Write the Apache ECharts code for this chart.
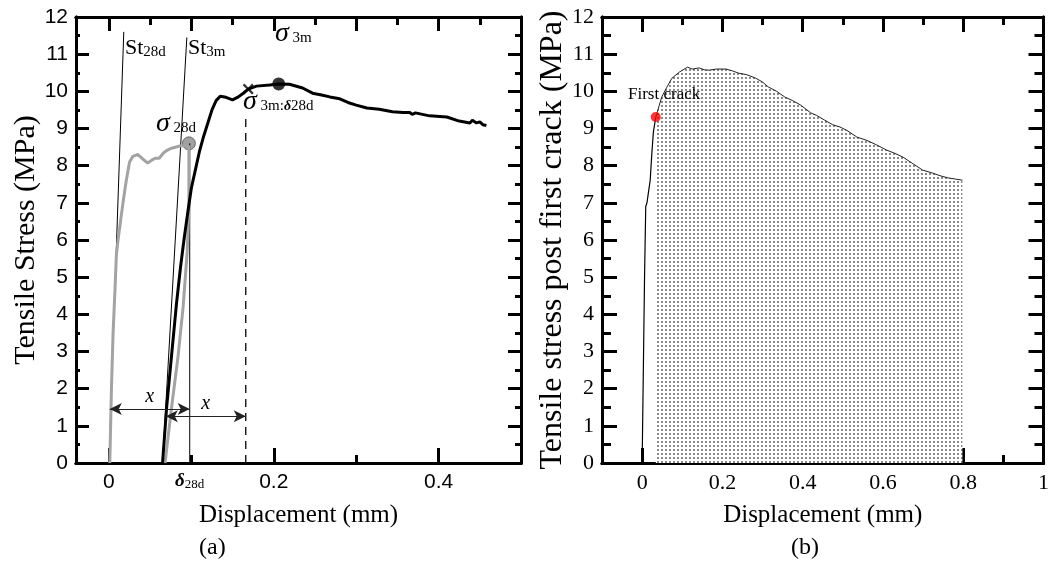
<!DOCTYPE html>
<html>
<head>
<meta charset="utf-8">
<script src="https://cdn.jsdelivr.net/npm/echarts@6/dist/echarts.min.js"></script>
<style>
  html, body { margin: 0; padding: 0; background: #fff; }
  #main { width: 1052px; height: 572px; }
</style>
</head>
<body>
<div id="main"></div>
<script>
// ---- data (a): 3 month curve, 28 day curve
var curve3mX = [0.065, 0.070, 0.076, 0.082, 0.087, 0.091, 0.096, 0.100, 0.105, 0.110, 0.115, 0.120, 0.125, 0.130, 0.135, 0.142, 0.150, 0.157, 0.163, 0.169, 0.179, 0.195, 0.206, 0.219, 0.235, 0.247, 0.258, 0.268, 0.280, 0.290, 0.300, 0.313, 0.328, 0.344, 0.357, 0.365, 0.368, 0.372, 0.389, 0.410, 0.425, 0.438, 0.441, 0.446, 0.450, 0.454, 0.458];
var curve3mY = [0, 1.5, 2.9, 4.3, 5.3, 6.0, 6.8, 7.4, 7.9, 8.4, 8.8, 9.15, 9.5, 9.75, 9.87, 9.84, 9.77, 9.85, 9.95, 10.06, 10.14, 10.17, 10.2, 10.19, 10.09, 9.95, 9.9, 9.85, 9.8, 9.7, 9.63, 9.55, 9.52, 9.45, 9.43, 9.43, 9.38, 9.42, 9.34, 9.31, 9.2, 9.15, 9.22, 9.15, 9.18, 9.1, 9.08];
var curve28dX = [0.001, 0.003, 0.005, 0.007, 0.009, 0.011, 0.014, 0.017, 0.021, 0.025, 0.029, 0.035, 0.040, 0.047, 0.052, 0.056, 0.061, 0.066, 0.071, 0.076, 0.086, 0.097];
var curve28dY = [0, 2.0, 3.5, 4.5, 5.6, 6.0, 6.5, 7.0, 7.6, 8.1, 8.25, 8.3, 8.2, 8.07, 8.15, 8.2, 8.2, 8.34, 8.42, 8.47, 8.53, 8.55];
var shifted28dX = [0.068, 0.076, 0.084, 0.090, 0.095, 0.097, 0.097];
var shifted28dY = [0, 1.5, 2.9, 4.2, 5.7, 6.9, 8.55];
var st28dX = [0, 0.018];
var st28dY = [0, 11.6];
var st3mX = [0.065, 0.0945];
var st3mY = [0, 11.45];
var sigma28d = [0.097, 8.6];
var sigma3m = [0.206, 10.2];
var sigma3mAt28d = [0.169, 10.06];
var delta28d = 0.098;
var dashX = 0.166;
var dashTop = 9.3;
var arrow1 = [0.001, 0.098, 1.45];
var arrow2 = [0.069, 0.166, 1.26];

// ---- data (b): post first crack
var preCrackX = [0, 0.003, 0.006, 0.009, 0.012, 0.016, 0.020, 0.024, 0.028, 0.034];
var preCrackY = [0, 2.5, 5.0, 6.9, 7.0, 7.3, 7.6, 8.3, 8.9, 9.31];
var postCrackX = [0.034, 0.042, 0.049, 0.061, 0.074, 0.093, 0.113, 0.125, 0.142, 0.155, 0.167, 0.185, 0.209, 0.225, 0.240, 0.260, 0.282, 0.300, 0.314, 0.335, 0.355, 0.375, 0.395, 0.420, 0.435, 0.454, 0.475, 0.493, 0.510, 0.535, 0.560, 0.584, 0.609, 0.630, 0.650, 0.675, 0.699, 0.724, 0.745, 0.763, 0.780, 0.798];
var postCrackY = [9.31, 9.6, 9.85, 10.1, 10.35, 10.52, 10.65, 10.6, 10.63, 10.58, 10.57, 10.6, 10.6, 10.55, 10.49, 10.45, 10.36, 10.25, 10.12, 10.0, 9.85, 9.75, 9.63, 9.42, 9.35, 9.23, 9.1, 9.04, 8.95, 8.77, 8.68, 8.56, 8.42, 8.33, 8.23, 8.05, 7.88, 7.8, 7.72, 7.67, 7.64, 7.61];
var firstCrack = [0.034, 9.31];

// ---- ticks
var yMajor = [0, 1, 2, 3, 4, 5, 6, 7, 8, 9, 10, 11, 12];
var yMinor = [0.5, 1.5, 2.5, 3.5, 4.5, 5.5, 6.5, 7.5, 8.5, 9.5, 10.5, 11.5];
var aXMajor = [0, 0.2, 0.4];
var aXMinor = [0.1, 0.3];
var aXTopMajor = [0, 0.1, 0.2, 0.3, 0.4];
var aXTopMinor = [0.05, 0.15, 0.25, 0.35, 0.45];
var aXLabels = [0, 0.098, 0.2, 0.4];
var bXMajor = [0, 0.2, 0.4, 0.6, 0.8, 1];
var bXMinor = [0.1, 0.3, 0.5, 0.7, 0.9];

var SANS = 'Liberation Sans, Arial, sans-serif';
var SERIF = 'Liberation Serif, Times New Roman, serif';

function zip(xs, ys) {
    return xs.map(function (x, i) { return [x, ys[i]]; });
}

function axis(grid, pos, min, max, ticks, len, extra) {
    var a = {
        type: 'value', gridIndex: grid, position: pos, min: min, max: max,
        axisLine: { show: true, onZero: false, lineStyle: { color: '#000', width: 3 } },
        axisTick: { show: true, inside: true, length: len, customValues: ticks, lineStyle: { color: '#000', width: 3 } },
        axisLabel: { show: false },
        splitLine: { show: false }
    };
    for (var k in extra) a[k] = extra[k];
    return a;
}

// dotted fill like the original stipple
var pat = document.createElement('canvas');
pat.width = 4; pat.height = 4;
var pctx = pat.getContext('2d');
pctx.fillStyle = '#fff';
pctx.fillRect(0, 0, 4, 4);
pctx.fillStyle = '#8a8a8a';
pctx.fillRect(1, 1, 2, 2);

var xAxes = [
    axis(0, 'bottom', -0.04, 0.5, aXMajor, 15, {
        name: 'Displacement (mm)', nameLocation: 'middle', nameGap: 40,
        nameTextStyle: { fontFamily: SERIF, fontSize: 25, color: '#000' },
        axisLabel: {
            show: true, customValues: aXLabels, margin: 9, fontFamily: SANS, fontSize: 21, color: '#000',
            formatter: function (v) {
                return Math.abs(v - delta28d) < 1e-6 ? '{d|δ}{s|28d}' : String(v);
            },
            rich: {
                d: { fontFamily: SERIF, fontStyle: 'italic', fontWeight: 'bold', fontSize: 19, color: '#000' },
                s: { fontFamily: SERIF, fontSize: 13, color: '#000', padding: [6, 0, 0, 0] }
            }
        }
    }),
    axis(0, 'bottom', -0.04, 0.5, aXMinor, 8),
    axis(0, 'top', -0.04, 0.5, aXTopMajor, 14),
    axis(0, 'top', -0.04, 0.5, aXTopMinor, 8),
    axis(1, 'bottom', -0.1, 1, bXMajor, 15, {
        name: 'Displacement (mm)', nameLocation: 'middle', nameGap: 40,
        nameTextStyle: { fontFamily: SERIF, fontSize: 25, color: '#000' },
        axisLabel: { show: true, customValues: bXMajor, margin: 9, fontFamily: SERIF, fontSize: 22, color: '#000' }
    }),
    axis(1, 'bottom', -0.1, 1, bXMinor, 8),
    axis(1, 'top', -0.1, 1, bXMajor, 15),
    axis(1, 'top', -0.1, 1, bXMinor, 8)
];

var yAxes = [
    axis(0, 'left', 0, 12, yMajor, 13, {
        name: 'Tensile Stress (MPa)', nameLocation: 'middle', nameGap: 31,
        nameTextStyle: { fontFamily: SERIF, fontSize: 30, color: '#000' },
        axisLabel: { show: true, customValues: yMajor, margin: 8, fontFamily: SANS, fontSize: 21, color: '#000' }
    }),
    axis(0, 'left', 0, 12, yMinor, 4),
    axis(0, 'right', 0, 12, yMajor, 13),
    axis(0, 'right', 0, 12, yMinor, 6),
    axis(1, 'left', 0, 12, yMajor, 15, {
        name: 'Tensile stress post first crack (MPa)', nameLocation: 'middle', nameGap: 29,
        nameTextStyle: { fontFamily: SERIF, fontSize: 32, color: '#000' },
        axisLabel: { show: true, customValues: yMajor, margin: 8, fontFamily: SERIF, fontSize: 22, color: '#000' }
    }),
    axis(1, 'left', 0, 12, yMinor, 9),
    axis(1, 'right', 0, 12, yMajor, 15),
    axis(1, 'right', 0, 12, yMinor, 9)
];

function line(name, data, xi, color, width, extra) {
    var s = {
        name: name, type: 'line', xAxisIndex: xi, yAxisIndex: xi, data: data,
        showSymbol: false, symbol: 'none', silent: true, animation: false,
        lineStyle: { color: color, width: width }
    };
    for (var k in extra) s[k] = extra[k];
    return s;
}

var crossPath = 'path://M0,1.5L1.5,0L5,3.5L8.5,0L10,1.5L6.5,5L10,8.5L8.5,10L5,6.5L1.5,10L0,8.5L3.5,5Z';

var myChart = echarts.init(document.getElementById('main'));
myChart.setOption({
    animation: false,
    grid: [
        { left: 76, top: 17, width: 445, height: 446 },
        { left: 602, top: 17, width: 446, height: 446 }
    ],
    xAxis: xAxes,
    yAxis: yAxes,
    series: [
        line('St28d', zip(st28dX, st28dY), 0, '#000', 1, {
            markLine: {
                silent: true, animation: false,
                symbol: ['arrow', 'arrow'], symbolSize: [9, 12],
                lineStyle: { color: '#222', width: 1.2, type: 'solid' },
                label: { show: true, position: 'middle', formatter: 'x', fontFamily: SERIF, fontStyle: 'italic', fontSize: 20, color: '#000', distance: 2 },
                data: [
                    [{ coord: [arrow1[0], arrow1[2]] }, { coord: [arrow1[1], arrow1[2]] }],
                    [{ coord: [arrow2[0], arrow2[2]] }, { coord: [arrow2[1], arrow2[2]] }]
                ]
            }
        }),
        line('St3m', zip(st3mX, st3mY), 0, '#000', 1),
        line('delta28d', [[delta28d, 0], [delta28d, sigma28d[1]]], 0, '#000', 1),
        line('dash', [[dashX, 0], [dashX, dashTop]], 0, '#000', 1.3, {
            lineStyle: { color: '#000', width: 1.3, type: [8, 6] }
        }),
        line('28d', zip(curve28dX, curve28dY), 0, '#a3a3a3', 3),
        line('28d shifted', zip(shifted28dX, shifted28dY), 0, '#a3a3a3', 3),
        line('3m', zip(curve3mX, curve3mY), 0, '#000', 3),
        {
            type: 'scatter', xAxisIndex: 0, yAxisIndex: 0, silent: true, animation: false,
            data: [
                { value: sigma28d, symbol: 'circle', symbolSize: 13, itemStyle: { color: '#8a8a8a', borderColor: '#555', borderWidth: 1 } },
                { value: sigma3m, symbol: 'circle', symbolSize: 13, itemStyle: { color: '#000' } },
                { value: sigma3mAt28d, symbol: crossPath, symbolSize: 11, itemStyle: { color: '#000' } }
            ]
        },
        line('pre crack', zip(preCrackX, preCrackY), 4, '#000', 1.2),
        line('post crack', zip(postCrackX, postCrackY), 4, '#222', 1, {
            areaStyle: { color: { image: pat, repeat: 'repeat' }, opacity: 1 }
        }),
        {
            type: 'scatter', xAxisIndex: 4, yAxisIndex: 4, silent: true, animation: false,
            symbolSize: 10, itemStyle: { color: '#ff0000' }, z: 5,
            data: [firstCrack]
        }
    ],
    graphic: [
        { type: 'text', z: 100, left: 125, top: 37, style: { text: '{m|St}{s|28d}', rich: {
            m: { fontFamily: SERIF, fontSize: 22, fill: '#000' },
            s: { fontFamily: SERIF, fontSize: 15, fill: '#000', padding: [8, 0, 0, 0] } } } },
        { type: 'text', z: 100, left: 188, top: 37, style: { text: '{m|St}{s|3m}', rich: {
            m: { fontFamily: SERIF, fontSize: 22, fill: '#000' },
            s: { fontFamily: SERIF, fontSize: 15, fill: '#000', padding: [8, 0, 0, 0] } } } },
        { type: 'text', z: 100, left: 275, top: 20, style: { text: '{g|σ}{s| 3m}', rich: {
            g: { fontFamily: SERIF, fontStyle: 'italic', fontSize: 28, fill: '#000' },
            s: { fontFamily: SERIF, fontSize: 15, fill: '#000', padding: [8, 0, 0, 0] } } } },
        { type: 'text', z: 100, left: 243, top: 88, style: { text: '{g|σ}{s| 3m:}{d|δ}{s|28d}', rich: {
            g: { fontFamily: SERIF, fontStyle: 'italic', fontSize: 28, fill: '#000' },
            d: { fontFamily: SERIF, fontStyle: 'italic', fontWeight: 'bold', fontSize: 14, fill: '#000', padding: [8, 0, 0, 0] },
            s: { fontFamily: SERIF, fontSize: 15, fill: '#000', padding: [8, 0, 0, 0] } } } },
        { type: 'text', z: 100, left: 156, top: 110, style: { text: '{g|σ}{s| 28d}', rich: {
            g: { fontFamily: SERIF, fontStyle: 'italic', fontSize: 28, fill: '#000' },
            s: { fontFamily: SERIF, fontSize: 15, fill: '#000', padding: [8, 0, 0, 0] } } } },
        { type: 'text', z: 100, left: 628, top: 86, style: { text: 'First crack', font: '17px ' + SERIF, fill: '#000' } },
        { type: 'text', z: 100, left: 199, top: 536, style: { text: '(a)', font: '24px ' + SERIF, fill: '#000' } },
        { type: 'text', z: 100, left: 791, top: 536, style: { text: '(b)', font: '24px ' + SERIF, fill: '#000' } }
    ]
});
</script>
</body>
</html>
